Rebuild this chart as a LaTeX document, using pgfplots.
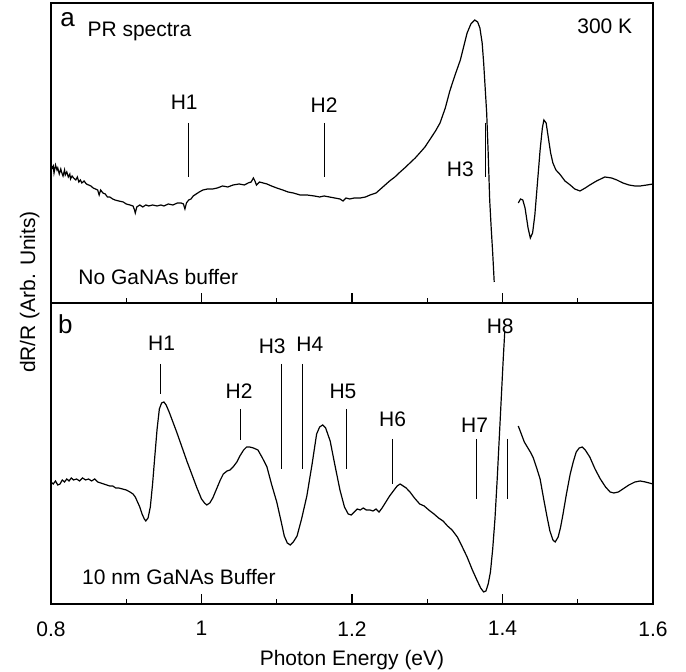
\documentclass[border=0pt]{standalone}
\usepackage{fontspec}
\setmainfont{Liberation Sans}
\usepackage{pgfplots}
\pgfplotsset{compat=1.18}
\begin{document}
\fontsize{10.5}{12}\selectfont
\begin{tikzpicture}
\path[use as bounding box] (-25.5pt,-34pt) rectangle (317.5pt,302pt);
\pgfplotsset{
  prstyle/.style={
    width=301pt, scale only axis,
    xmin=0.8, xmax=1.6, ymin=0,
    ytick=\empty,
    xtick={0.8,1.0,1.2,1.4,1.6},
    minor xtick={0.9,1.1,1.3,1.5},
    xtick pos=bottom,
    tick align=inside,
    major tick length=5pt,
    minor tick length=2.5pt,
    axis line style={line width=0.6pt},
    every tick/.style={black, line width=0.6pt},
    /pgf/number format/assume math mode=true,
    tick label style={font=\fontsize{10.5}{12}\selectfont},
    label style={font=\fontsize{10.5}{12}\selectfont},
  },
  hl/.style={black, line width=0.5pt, forget plot},
}
% ---------------- top panel ----------------
\begin{axis}[prstyle, height=150pt, at={(0,150.5pt)}, anchor=south west,
  ymax=300, xticklabels={}]
\addplot[black, line width=0.6pt] coordinates {
(0.800,140) (0.801,134) (0.803,137) (0.804,130) (0.806,138) (0.808,133) (0.809,135)
(0.811,129) (0.813,134) (0.814,131) (0.816,127) (0.818,133) (0.819,128) (0.821,131)
(0.823,126) (0.825,129) (0.826,124) (0.828,127) (0.830,125) (0.833,123) (0.835,126)
(0.837,121) (0.839,123) (0.841,120) (0.844,122) (0.847,119) (0.850,118) (0.853,117)
(0.856,115) (0.859,114) (0.862,113) (0.864,108) (0.866,113) (0.869,110) (0.872,109)
(0.875,106) (0.878,106) (0.882,104) (0.885,103) (0.890,102) (0.896,101) (0.900,99)
(0.905,98) (0.909,97) (0.911,93) (0.912,90) (0.914,96) (0.918,98) (0.922,96)
(0.926,98) (0.930,97) (0.935,98) (0.941,97) (0.946,98) (0.950,97) (0.956,99)
(0.962,98) (0.968,100) (0.973,100) (0.976,99) (0.978,94) (0.980,100) (0.983,103)
(0.986,104) (0.989,107) (0.993,109) (0.997,111) (1.002,113) (1.008,114) (1.015,114)
(1.021,115) (1.028,117) (1.035,116) (1.042,118) (1.050,119) (1.057,118) (1.062,120)
(1.066,121) (1.069,125) (1.071,122) (1.073,118) (1.077,121) (1.082,120) (1.087,119)
(1.093,117) (1.100,115) (1.108,113) (1.115,111) (1.122,110) (1.131,108) (1.140,108)
(1.150,107) (1.157,106) (1.163,107) (1.170,106) (1.177,105) (1.184,104) (1.188,102)
(1.192,105) (1.197,104) (1.203,105) (1.211,105) (1.218,106) (1.224,108) (1.232,110)
(1.241,116) (1.250,122) (1.257,126) (1.264,131) (1.270,135) (1.277,140) (1.284,145)
(1.290,150) (1.297,156) (1.304,164) (1.311,172) (1.317,180) (1.324,195) (1.330,212)
(1.337,228) (1.344,243) (1.349,258) (1.353,270) (1.358,279) (1.363,283) (1.367,281)
(1.370,275) (1.373,260) (1.375,240) (1.377,215) (1.379,190) (1.381,150) (1.383,103)
(1.385,75) (1.387,50) (1.389,21)
};
\addplot[black, line width=0.6pt] coordinates {
(1.421,100) (1.424,104) (1.427,103) (1.430,95) (1.434,75) (1.437,65) (1.440,70)
(1.443,88) (1.447,125) (1.450,153) (1.453,175) (1.455,183) (1.458,180) (1.461,165)
(1.464,150) (1.467,140) (1.471,133) (1.476,129) (1.483,122) (1.490,118) (1.496,114)
(1.503,112) (1.510,115) (1.516,118) (1.525,122) (1.536,126) (1.545,125) (1.552,123)
(1.560,120) (1.568,118) (1.576,117) (1.583,117) (1.592,118) (1.600,119)
};
\addplot[hl] coordinates {(0.983,180) (0.983,126)};
\addplot[hl] coordinates {(1.163,180) (1.163,126)};
\addplot[hl] coordinates {(1.378,180) (1.378,126)};
\node[anchor=base] at (axis cs:0.977,193) {H1};
\node[anchor=base] at (axis cs:1.163,190) {H2};
\node[anchor=base] at (axis cs:1.344,126) {H3};
\node[anchor=base west, inner sep=0pt, font=\fontsize{13}{14}\selectfont] at (axis cs:0.812,276) {a};
\node[anchor=base west, inner sep=0pt] at (axis cs:0.848,266) {PR spectra};
\node[anchor=base west, inner sep=0pt] at (axis cs:1.499,269) {300 K};
\node[anchor=base west, inner sep=0pt] at (axis cs:0.836,18) {No GaNAs buffer};
\end{axis}
% ---------------- bottom panel ----------------
\begin{axis}[prstyle, height=150.5pt, at={(0,0)}, anchor=south west,
  ymax=301, xlabel={Photon Energy (eV)},
  xticklabel style={yshift=-5pt},
  xlabel style={yshift=0pt}]
\addplot[black, line width=0.6pt] coordinates {
(0.800,122) (0.803,120) (0.806,123) (0.809,119) (0.812,120) (0.815,124) (0.818,122)
(0.821,125) (0.824,123) (0.827,126) (0.830,124) (0.834,125) (0.838,123) (0.842,126)
(0.846,124) (0.850,125) (0.854,123) (0.858,125) (0.862,122) (0.866,121) (0.870,120)
(0.874,119) (0.878,118) (0.882,118) (0.886,116) (0.890,116) (0.895,115) (0.900,114)
(0.905,112) (0.909,110) (0.912,107) (0.915,102) (0.918,97) (0.921,90) (0.924,85)
(0.926,83) (0.929,86) (0.932,97) (0.935,120) (0.938,148) (0.941,175) (0.944,195)
(0.947,201) (0.950,202) (0.953,199) (0.957,192) (0.962,182) (0.967,172) (0.974,157)
(0.981,142) (0.988,128) (0.994,116) (1.000,105) (1.004,101) (1.007,99) (1.011,101)
(1.015,106) (1.020,115) (1.025,124) (1.029,130) (1.034,133) (1.038,134) (1.042,137)
(1.047,142) (1.051,148) (1.056,154) (1.060,157) (1.064,157) (1.069,156) (1.075,154)
(1.081,146) (1.087,137) (1.093,120) (1.100,102) (1.106,82) (1.110,68) (1.114,61)
(1.118,59) (1.122,62) (1.127,68) (1.133,85) (1.140,108) (1.147,140) (1.153,170)
(1.157,177) (1.161,179) (1.165,176) (1.171,163) (1.177,140) (1.184,114) (1.190,97)
(1.195,90) (1.199,89) (1.203,92) (1.207,95) (1.211,94) (1.215,96) (1.219,94)
(1.224,94) (1.228,93) (1.232,95) (1.236,92) (1.240,96) (1.245,102) (1.250,108)
(1.255,113) (1.260,118) (1.264,120) (1.268,118) (1.272,116) (1.277,112) (1.283,106)
(1.290,100) (1.296,98) (1.302,94) (1.309,90) (1.315,86) (1.321,83) (1.327,78)
(1.333,74) (1.340,67) (1.346,58) (1.353,47) (1.360,34) (1.366,24) (1.371,16)
(1.375,12) (1.378,13) (1.381,20) (1.384,32) (1.387,55) (1.390,85) (1.393,125)
(1.396,170) (1.399,215) (1.401,245) (1.403,272)
};
\addplot[black, line width=0.6pt] coordinates {
(1.421,178) (1.425,170) (1.429,162) (1.433,157) (1.437,152) (1.441,146) (1.445,137)
(1.450,125) (1.455,104) (1.459,88) (1.463,73) (1.467,64) (1.470,62) (1.474,67)
(1.477,76) (1.480,88) (1.485,110) (1.490,130) (1.494,142) (1.498,152) (1.502,156)
(1.506,157) (1.510,154) (1.516,147) (1.523,135) (1.530,125) (1.537,117) (1.543,112)
(1.548,111) (1.554,112) (1.560,115) (1.568,119) (1.576,122) (1.583,123) (1.590,122)
(1.600,120)
};
\addplot[hl] coordinates {(0.946,240) (0.946,210)};
\addplot[hl] coordinates {(1.052,195) (1.052,164)};
\addplot[hl] coordinates {(1.106,240) (1.106,135)};
\addplot[hl] coordinates {(1.134,240) (1.134,135)};
\addplot[hl] coordinates {(1.193,195) (1.193,135)};
\addplot[hl] coordinates {(1.254,165) (1.254,120)};
\addplot[hl] coordinates {(1.366,165) (1.366,105)};
\addplot[hl] coordinates {(1.406,165) (1.406,105)};
\node[anchor=base] at (axis cs:0.947,253) {H1};
\node[anchor=base] at (axis cs:1.050,205) {H2};
\node[anchor=base] at (axis cs:1.094,250) {H3};
\node[anchor=base] at (axis cs:1.144,252) {H4};
\node[anchor=base] at (axis cs:1.188,205) {H5};
\node[anchor=base] at (axis cs:1.254,177) {H6};
\node[anchor=base] at (axis cs:1.363,171) {H7};
\node[anchor=base] at (axis cs:1.397,270) {H8};
\node[anchor=base west, inner sep=0pt, font=\fontsize{13}{14}\selectfont] at (axis cs:0.809,270) {b};
\node[anchor=base west, inner sep=0pt] at (axis cs:0.841,19) {10 nm GaNAs Buffer};
\end{axis}
\node[rotate=90, anchor=base, inner sep=0pt] at (-8pt,156pt) {dR/R (Arb. Units)};
\end{tikzpicture}
\end{document}
